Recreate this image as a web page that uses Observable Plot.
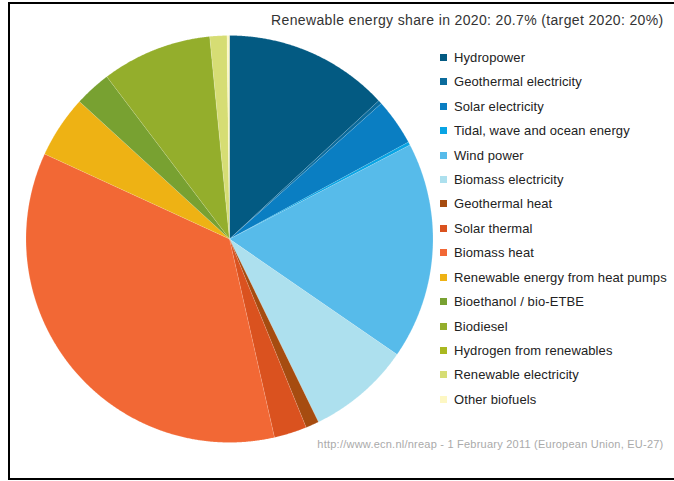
<!DOCTYPE html>
<html>
<head>
<meta charset="utf-8">
<script src="https://cdn.jsdelivr.net/npm/d3@7"></script>
<script src="https://cdn.jsdelivr.net/npm/@observablehq/plot@0.6"></script>
<style>
  html, body { margin: 0; padding: 0; background: #fff; overflow: hidden; }
  #wrap { position: relative; width: 674px; height: 481px; overflow: hidden; font-family: "Liberation Sans", Arial, sans-serif; }
  #frame { position: absolute; left: 8px; top: 2px; width: 700px; height: 474px; border: 2px solid #000; border-right: none; box-sizing: content-box; }
  #chart { position: absolute; left: 0; top: 0; }
  #legend { position: absolute; left: 0; top: 0; }
  .row { position: absolute; left: 440px; height: 16px; display: flex; align-items: center; font-size: 13px; color: #222; white-space: nowrap; letter-spacing: 0.1px; }
  .sw { width: 7px; height: 7px; margin-right: 7px; }
</style>
</head>
<body>
<div id="wrap">
  <div id="frame"></div>
  <div id="chart"></div>
  <div id="legend"></div>
</div>
<script>
const categories = [
  "Hydropower",
  "Geothermal electricity",
  "Solar electricity",
  "Tidal, wave and ocean energy",
  "Wind power",
  "Biomass electricity",
  "Geothermal heat",
  "Solar thermal",
  "Biomass heat",
  "Renewable energy from heat pumps",
  "Bioethanol / bio-ETBE",
  "Biodiesel",
  "Hydrogen from renewables",
  "Renewable electricity",
  "Other biofuels"
];
const shares = [13.1, 0.3, 3.7, 0.25, 17.25, 8.2, 1.05, 2.6, 35.4, 4.95, 2.9, 8.75, 0, 1.35, 0.2];
const colors = [
  "#035a82", "#0b6b9c", "#0a7ec2", "#08a4e4", "#57bbea", "#ade0ee",
  "#a64c10", "#da521f", "#f26835", "#eeb214", "#78a131", "#94ae2c",
  "#a9b820", "#d6dd74", "#fdf7c3"
];
const title = "Renewable energy share in 2020: 20.7% (target 2020: 20%)";
const source = "http://www.ecn.nl/nreap - 1 February 2011 (European Union, EU-27)";

const data = categories.map((c, i) => ({category: c, share: shares[i]}));
const arcs = d3.pie().sort(null).value(d => d.share)(data);
const pts = arcs.flatMap(a => {
  const out = [{category: a.data.category, u: 0, v: 0}];
  const n = Math.max(2, Math.ceil((a.endAngle - a.startAngle) / 0.005));
  for (let i = 0; i <= n; i++) {
    const t = a.startAngle + (a.endAngle - a.startAngle) * i / n;
    out.push({category: a.data.category, u: Math.sin(t), v: Math.cos(t)});
  }
  return out;
});

const W = 674, H = 481, cx = 229, cy = 238.5, R = 203.5;
const chart = Plot.plot({
  width: W,
  height: H,
  margin: 0,
  style: {background: "transparent", fontFamily: "Liberation Sans, Arial, sans-serif"},
  x: {domain: [-cx / R, (W - cx) / R], axis: null},
  y: {domain: [(cy - H) / R, cy / R], axis: null},
  color: {domain: categories, range: colors},
  marks: [
    Plot.line(pts, {x: "u", y: "v", z: "category", fill: "category", stroke: "white", strokeOpacity: 0.25, strokeWidth: 0.6, curve: "linear"}),
    Plot.text([title], {frameAnchor: "top-right", dx: -11, dy: 24, lineAnchor: "bottom", textAnchor: "end", fontSize: 14, fill: "#333"}),
    Plot.text([source], {frameAnchor: "top-right", dx: -11, dy: 447, lineAnchor: "bottom", textAnchor: "end", fontSize: 11, fill: "#aaa"})
  ]
});
d3.select(chart).selectAll("text").each(function() {
  const t = this.textContent;
  if (t === title) this.style.letterSpacing = "0.35px";
  if (t === source) this.style.letterSpacing = "0.23px";
});
document.getElementById("chart").appendChild(chart);

const color = chart.scale("color");
const legend = document.getElementById("legend");
categories.forEach((c, i) => {
  const row = document.createElement("div");
  row.className = "row";
  row.style.top = (57.3 + i * 24.43 - 8) + "px";
  const sw = document.createElement("div");
  sw.className = "sw";
  sw.style.background = color.apply(c);
  const lab = document.createElement("span");
  lab.textContent = c;
  row.appendChild(sw);
  row.appendChild(lab);
  legend.appendChild(row);
});
</script>
</body>
</html>
